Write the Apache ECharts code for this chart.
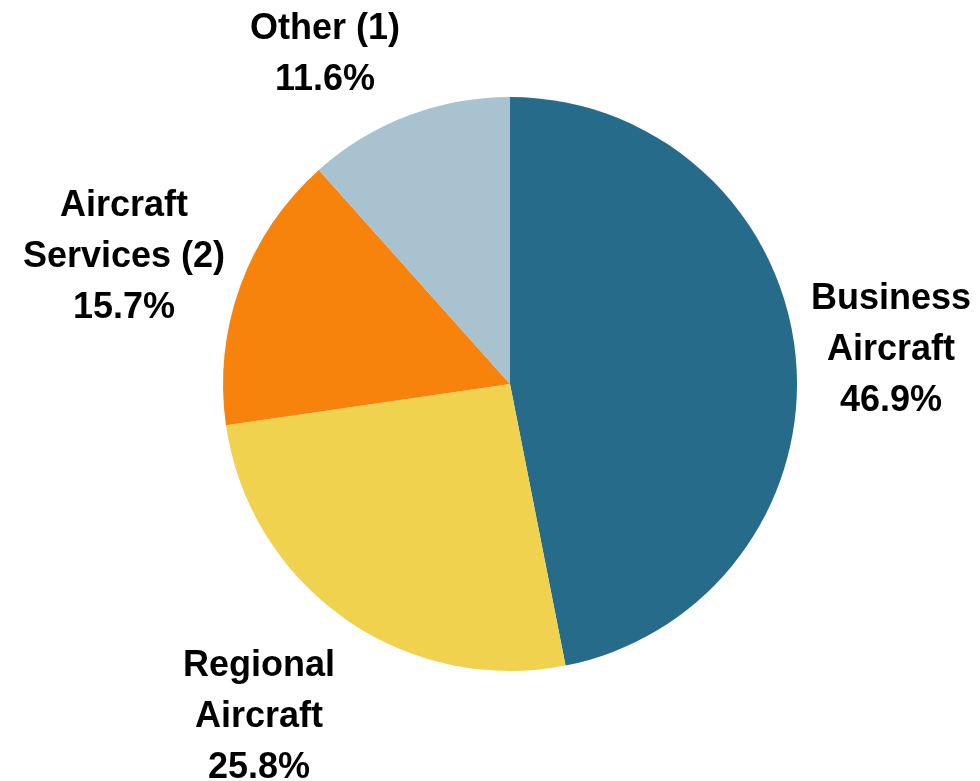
<!DOCTYPE html>
<html>
<head>
<meta charset="utf-8">
<style>
  html, body { margin: 0; padding: 0; background: #ffffff; }
  #chart { width: 980px; height: 781px; }
</style>
<script src="https://cdn.jsdelivr.net/npm/echarts@6/dist/echarts.min.js"></script>
</head>
<body>
<div id="chart"></div>
<script>
// Revenue mix by segment (percent), clockwise from 12 o'clock
const segments = ['Business\nAircraft', 'Regional\nAircraft', 'Aircraft\nServices (2)', 'Other (1)'];
const shares = [46.9, 25.8, 15.7, 11.6];
const segmentColors = ['#266B8A', '#F0D24E', '#F7820C', '#A9C2D0'];

// Label anchor points (block centres) for each segment
const labelAnchors = [[891, 350], [259, 717], [124, 257], [325, 55]];

const chart = echarts.init(document.getElementById('chart'), null, { renderer: 'canvas' });

chart.setOption({
  animation: false,
  backgroundColor: '#ffffff',
  series: [{
    type: 'pie',
    center: [510, 384],
    radius: 287,
    startAngle: 90,
    clockwise: true,
    avoidLabelOverlap: false,
    itemStyle: { borderWidth: 0 },
    emphasis: { disabled: true },
    label: {
      show: true,
      position: 'outside',
      formatter: p => p.name + '\n' + p.value.toFixed(1) + '%',
      fontFamily: '"Liberation Sans", Arial, sans-serif',
      fontWeight: 'bold',
      fontSize: 36,
      lineHeight: 51,
      color: '#000000',
      align: 'center'
    },
    labelLine: { show: false },
    labelLayout: params => ({
      x: labelAnchors[params.dataIndex][0],
      y: labelAnchors[params.dataIndex][1],
      align: 'center',
      verticalAlign: 'middle'
    }),
    data: segments.map((name, i) => ({
      name: name,
      value: shares[i],
      itemStyle: { color: segmentColors[i] }
    }))
  }]
});
</script>
</body>
</html>
